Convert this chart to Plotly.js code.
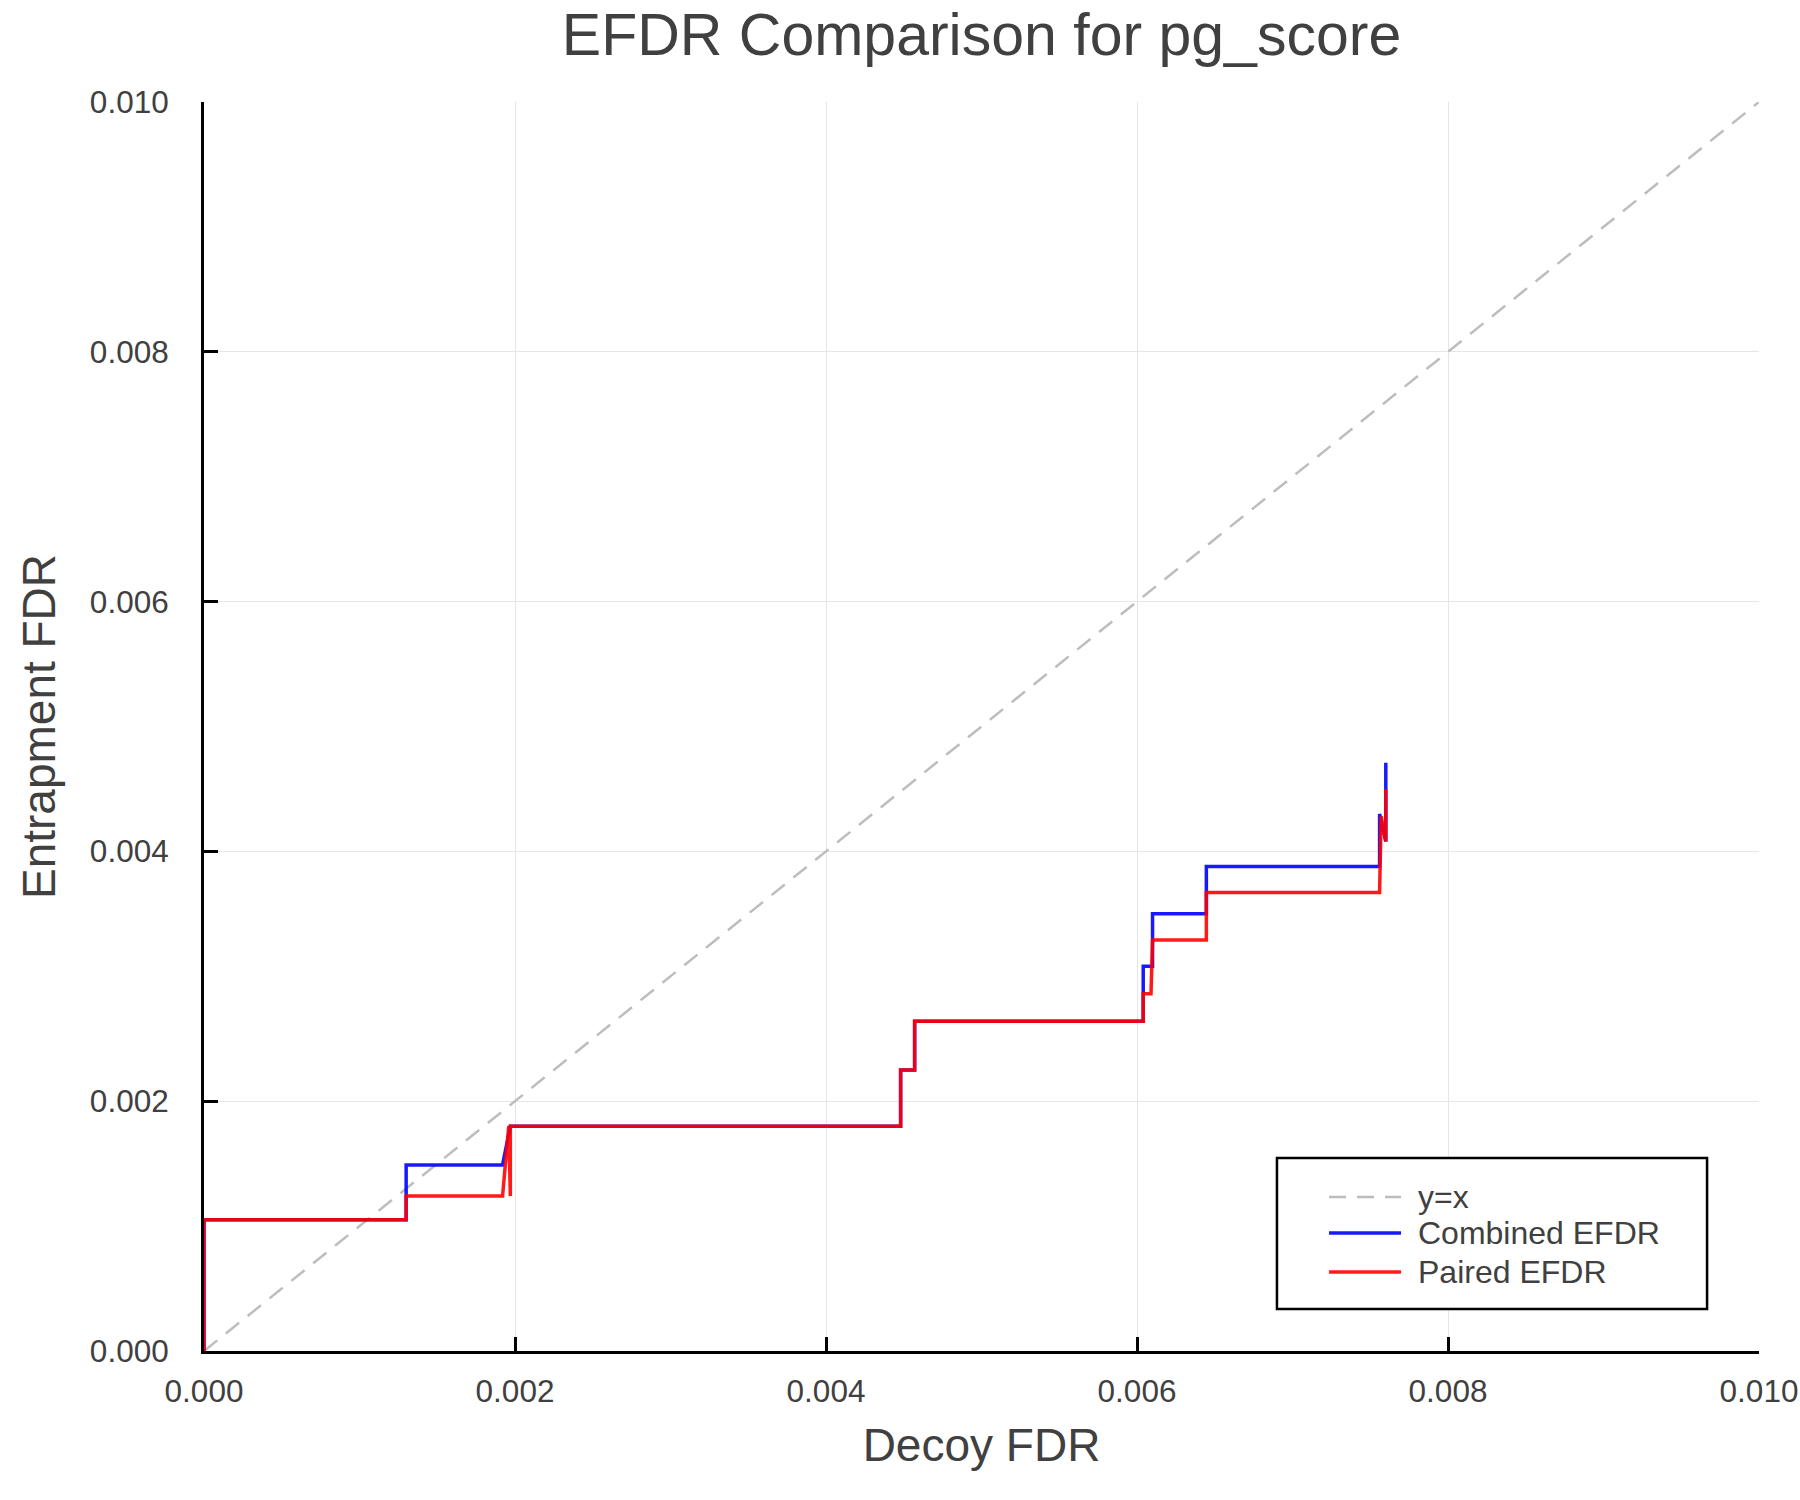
<!DOCTYPE html>
<html>
<head>
<meta charset="utf-8">
<script src="https://cdn.plot.ly/plotly-3.0.1.min.js"></script>
<style>
  body { margin: 0; background: #fff; }
  #chart { width: 1800px; height: 1500px; }
</style>
</head>
<body>
<div id="chart"></div>
<script>
// reference line
const diagX = [0, 0.01];
const diagY = [0, 0.01];

// Combined EFDR
const combinedX = [0, 0, 0.0013, 0.0013, 0.00192, 0.00197, 0.00448, 0.00448, 0.00457, 0.00457,
  0.00604, 0.00604, 0.0061, 0.0061, 0.006446, 0.006446, 0.00756, 0.00756, 0.0076, 0.0076];
const combinedY = [0, 0.00105, 0.00105, 0.00149, 0.00149, 0.0018, 0.0018, 0.00225, 0.00225, 0.00264,
  0.00264, 0.00308, 0.00308, 0.0035, 0.0035, 0.00388, 0.00388, 0.0043, 0.00408, 0.00471];

// Paired EFDR
const pairedX = [0, 0, 0.0013, 0.0013, 0.00192, 0.00196, 0.00197, 0.00197, 0.00448, 0.00448, 0.00457, 0.00457,
  0.00604, 0.00604, 0.00609, 0.0061, 0.006446, 0.006446, 0.00756, 0.00757, 0.0076, 0.0076];
const pairedY = [0, 0.00105, 0.00105, 0.00124, 0.00124, 0.0018, 0.00124, 0.0018, 0.0018, 0.00225, 0.00225, 0.00264,
  0.00264, 0.00286, 0.00286, 0.00329, 0.00329, 0.00367, 0.00367, 0.00428, 0.00408, 0.0045];

const seriesNames = ['y=x', 'Combined EFDR', 'Paired EFDR'];
const seriesColors = ['#bdbdbd', 'rgba(0,0,255,0.9)', 'rgba(255,0,0,0.9)'];
const seriesDash = ['17px,11px', 'solid', 'solid'];
const seriesWidth = [2.5, 3.5, 3.5];
const tickVals = [0, 0.002, 0.004, 0.006, 0.008, 0.01];

const FONT = 'Liberation Sans, Arial, sans-serif';
const TXT = '#404040';

const traces = [
  {x: diagX, y: diagY, mode: 'lines', name: seriesNames[0],
   line: {color: seriesColors[0], width: seriesWidth[0], dash: seriesDash[0]}},
  {x: combinedX, y: combinedY, mode: 'lines', name: seriesNames[1],
   line: {color: seriesColors[1], width: seriesWidth[1]}},
  {x: pairedX, y: pairedY, mode: 'lines', name: seriesNames[2],
   line: {color: seriesColors[2], width: seriesWidth[2]}}
];

// hand made legend box, lines are longer than plotly's own
const legX0 = 0.690, legX1 = 0.9666, legY0 = 0.0336, legY1 = 0.1545;
const rowY = [0.1233, 0.0945, 0.0633];
let shapes = [{type: 'rect', xref: 'paper', yref: 'paper', x0: legX0, x1: legX1, y0: legY0, y1: legY1,
  line: {color: '#000', width: 2.5}, fillcolor: '#fff', layer: 'above'}];
let annotations = [];
seriesNames.forEach((nm, i) => {
  shapes.push({type: 'line', xref: 'paper', yref: 'paper', x0: 0.7235, x1: 0.7698, y0: rowY[i], y1: rowY[i],
    line: {color: seriesColors[i], width: seriesWidth[i], dash: seriesDash[i]}, layer: 'above'});
  annotations.push({xref: 'paper', yref: 'paper', x: 0.7792, y: rowY[i], xanchor: 'left', yanchor: 'middle',
    text: nm, showarrow: false, font: {family: FONT, size: 32, color: TXT}});
});

const axisCommon = {
  range: [0, 0.01],
  tickvals: tickVals,
  tickformat: '.3f',
  ticks: 'inside',
  ticklen: 14,
  tickwidth: 3,
  tickcolor: '#000',
  showline: true,
  linecolor: '#000',
  linewidth: 3,
  mirror: false,
  showgrid: true,
  gridcolor: '#e6e6e6',
  gridwidth: 1,
  zeroline: false,
  ticklabeloverflow: 'allow',
  tickfont: {family: FONT, size: 31.5, color: TXT}
};

const layout = {
  width: 1800,
  height: 1500,
  paper_bgcolor: '#fff',
  plot_bgcolor: '#fff',
  showlegend: false,
  margin: {l: 204, r: 41, t: 102, b: 149},
  title: {text: 'EFDR Comparison for pg_score', x: 0.5, xref: 'paper', y: 0.977, yref: 'container',
    yanchor: 'middle', font: {family: FONT, size: 59, color: TXT}},
  xaxis: Object.assign({}, axisCommon, {
    title: {text: 'Decoy FDR', standoff: 22, font: {family: FONT, size: 46, color: TXT}},
    ticklabelstandoff: 10
  }),
  yaxis: Object.assign({}, axisCommon, {
    title: {text: 'Entrapment FDR', standoff: 20, font: {family: FONT, size: 46, color: TXT}},
    ticklabelstandoff: 26
  }),
  shapes: shapes,
  annotations: annotations
};

Plotly.newPlot('chart', traces, layout, {displayModeBar: false, staticPlot: true});
</script>
</body>
</html>
